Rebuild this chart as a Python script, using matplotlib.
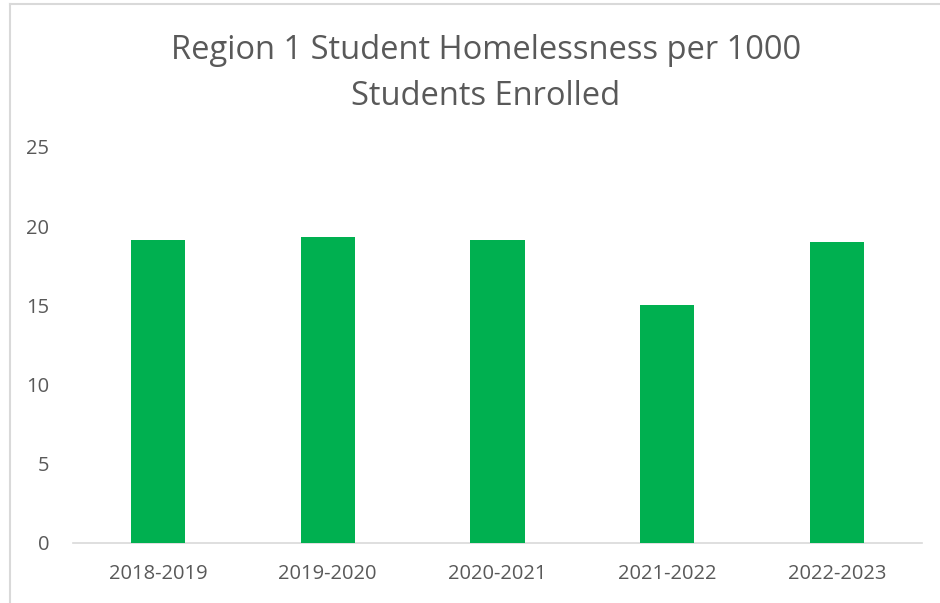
import matplotlib
matplotlib.use("Agg")
import matplotlib.pyplot as plt
from matplotlib.lines import Line2D

# School years and homeless students per 1000 enrolled
years = ["2018-2019", "2019-2020", "2020-2021", "2021-2022", "2022-2023"]
rates = [19.1, 19.3, 19.1, 15.0, 19.0]
y_ticks = [0, 5, 10, 15, 20, 25]

title = "Region 1 Student Homelessness per 1000\nStudents Enrolled"

W, H = 940, 603
fig = plt.figure(figsize=(W / 100, H / 100), dpi=100)
fig.patch.set_facecolor("white")

# chart frame edges (top and left)
fig.add_artist(Line2D([10 / W, 10 / W], [0, 1 - 4 / H], color="#d9d9d9", lw=1.5))
fig.add_artist(Line2D([10 / W, 1], [1 - 4 / H, 1 - 4 / H], color="#d9d9d9", lw=1.5))

left, right = 73, 922
y0_px, y25_px = 543, 147
ax = fig.add_axes([left / W, 1 - y0_px / H, (right - left) / W, (y0_px - y25_px) / H])

x = list(range(len(years)))
ax.bar(x, rates, width=0.32, color="#00b050", zorder=3)

ax.set_xlim(-0.5, len(years) - 0.5)
ax.set_ylim(0, 25)
ax.set_yticks(y_ticks)
ax.set_xticks(x)
ax.set_xticklabels(years)

font = "Open Sans"
for lab in ax.get_xticklabels() + ax.get_yticklabels():
    lab.set_fontfamily(font)
    lab.set_fontsize(14.5)
    lab.set_color("#595959")

for s in ["top", "right", "left"]:
    ax.spines[s].set_visible(False)
ax.spines["bottom"].set_color("#d9d9d9")
ax.spines["bottom"].set_linewidth(1.2)
ax.tick_params(axis="both", length=0)
ax.tick_params(axis="y", pad=17)
ax.tick_params(axis="x", pad=15)

fig.text(486 / W, 1 - 73.5 / H, title, ha="center", va="center",
         fontsize=23.5, color="#595959", family=font, linespacing=1.52)

fig.savefig("out.png", dpi=100, facecolor="white")
